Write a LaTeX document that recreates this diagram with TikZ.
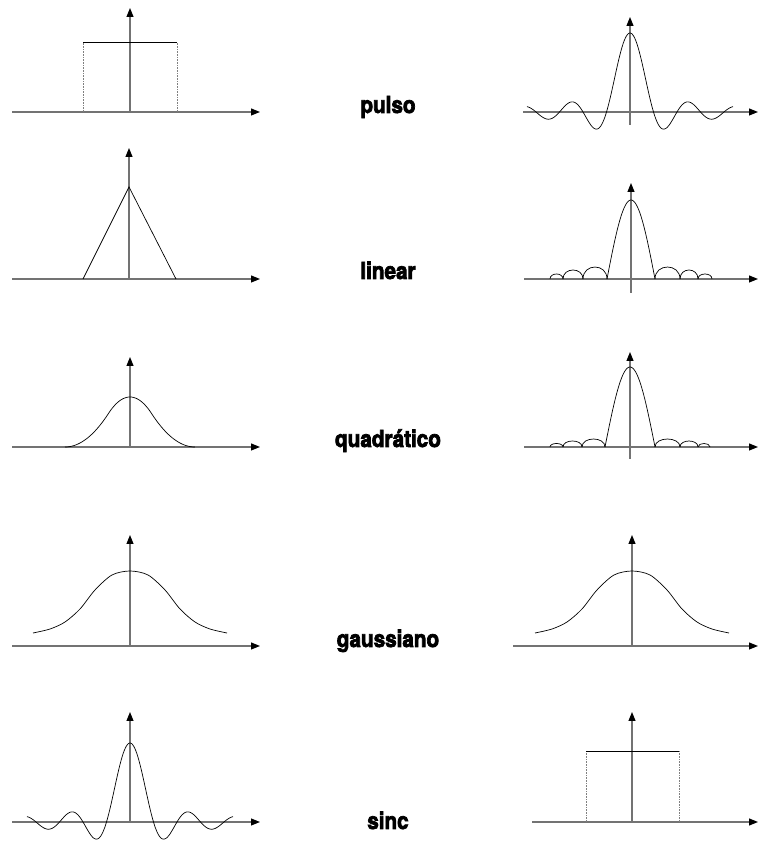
\documentclass[tikz,border=0pt]{standalone}
\usepackage{fontspec}
\usepackage{tikz}
\usetikzlibrary{arrows.meta}
\newfontfamily\labelfont[FakeStretch=0.88, BoldFeatures={FakeBold=3}]{TeX Gyre Heros}

\begin{document}
\begin{tikzpicture}[
    x=1pt, y=1pt,
    axis/.style={draw=black!55, line width=1.1pt, -{Triangle[length=9pt, width=7pt, color=black]}},
    curve/.style={black, line width=0.7pt},
    guide/.style={black!50, densely dotted, line width=0.6pt},
    lbl/.style={anchor=base, font=\labelfont\bfseries\fontsize{23.5}{25}\selectfont},
    declare function={sincfn(\t)=sin(\t/23.5*180)/(\t/23.5*pi);
                      bspl(\t)=(abs(\t)<=0.5 ? 0.75-\t*\t : 0.5*(abs(\t)-1.5)^2);}
]
\useasboundingbox (0,0) rectangle (758,843);

% pulso
\begin{scope}[shift={(130,731)}]
\draw[axis] (-118,0) -- (130,0);
\draw[axis] (0,0) -- (0,104);
\draw[guide] (-47,0) -- (-47,70);
\draw[guide] (47,0) -- (47,70);
\draw[curve] (-47,70) -- (47,70);
\end{scope}
\begin{scope}[shift={(630,731)}]
\draw[axis] (-107,0) -- (128,0);
\draw[axis] (0,-13) -- (0,95);
\draw[curve] plot[domain=-103:103, samples=200, smooth] (\x, {79*sincfn(\x)});
\end{scope}
\node[lbl] (pulso) at (388,730) {pulso};

% linear
\begin{scope}[shift={(129,564)}]
\draw[axis] (-117,0) -- (131,0);
\draw[axis] (0,0) -- (0,131);
\draw[curve] (-46,0) -- (0,92) -- (47,0);
\end{scope}
\begin{scope}[shift={(631,564)}]
\draw[axis] (-107,0) -- (127,0);
\draw[axis] (0,-14) -- (0,96);
\draw[curve] plot[domain=-24:24, samples=60, smooth] (\x, {79*cos(\x/24*90)});
\foreach \a/\b/\h in {-48/-24/12, -68/-48/9, -81/-68/5, 24/49/12, 49/67/9, 67/81/5}
  \draw[curve] (\a,0) .. controls (\a,1.33*\h) and (\b,1.33*\h) .. (\b,0);
\end{scope}
\node[lbl] (linear) at (388,564) {linear};

% quadratico
\begin{scope}[shift={(130,396)}]
\draw[axis] (-118,0) -- (130,0);
\draw[axis] (0,0) -- (0,90);
\draw[curve] plot[domain=-1.5:1.5, samples=120, smooth] ({\x*65/1.5}, {50/0.75*bspl(\x)});
\end{scope}
\begin{scope}[shift={(630,396)}]
\draw[axis] (-106,0) -- (128,0);
\draw[axis] (0,-12) -- (0,95);
\draw[curve] plot[domain=-25:25, samples=60, smooth] (\x, {80*cos(\x/25*90)});
\foreach \a/\b/\h in {-48/-25/8, -67/-48/6, -80/-67/3.5, 25/50/8, 50/68/6, 68/80/3.5}
  \draw[curve] (\a,0) .. controls (\a,1.33*\h) and (\b,1.33*\h) .. (\b,0);
\end{scope}
\node[lbl] (quadratico) at (388,396) {quadrático};

% gaussiano
\begin{scope}[shift={(130,197)}]
\draw[axis] (-118,0) -- (130,0);
\draw[axis] (0,0) -- (0,111);
\draw[curve] plot[smooth] coordinates {(-97,13) (-80,17) (-65,24) (-50,37) (-35,56) (-18,71) (0,75)
  (18,71) (35,56) (50,37) (65,24) (80,17) (97,13)};
\end{scope}
\begin{scope}[shift={(632,197)}]
\draw[axis] (-119,0) -- (126,0);
\draw[axis] (0,0) -- (0,111);
\draw[curve] plot[smooth] coordinates {(-97,13) (-80,17) (-65,24) (-50,37) (-35,56) (-18,71) (0,75)
  (18,71) (35,56) (50,37) (65,24) (80,17) (97,13)};
\end{scope}
\node[lbl] (gaussiano) at (388,196) {gaussiano};

% sinc
\begin{scope}[shift={(130,21)}]
\draw[axis] (-118,0) -- (130,0);
\draw[axis] (0,0) -- (0,110);
\draw[curve] plot[domain=-103:103, samples=200, smooth] (\x, {79*sincfn(\x)});
\end{scope}
\begin{scope}[shift={(632,21)}]
\draw[axis] (-100,0) -- (126,0);
\draw[axis] (0,0) -- (0,110);
\draw[guide] (-46,0) -- (-46,71);
\draw[guide] (47,0) -- (47,71);
\draw[curve] (-46,71) -- (47,71);
\end{scope}
\node[lbl] (sinc) at (388,14) {sinc};
\end{tikzpicture}
\end{document}
